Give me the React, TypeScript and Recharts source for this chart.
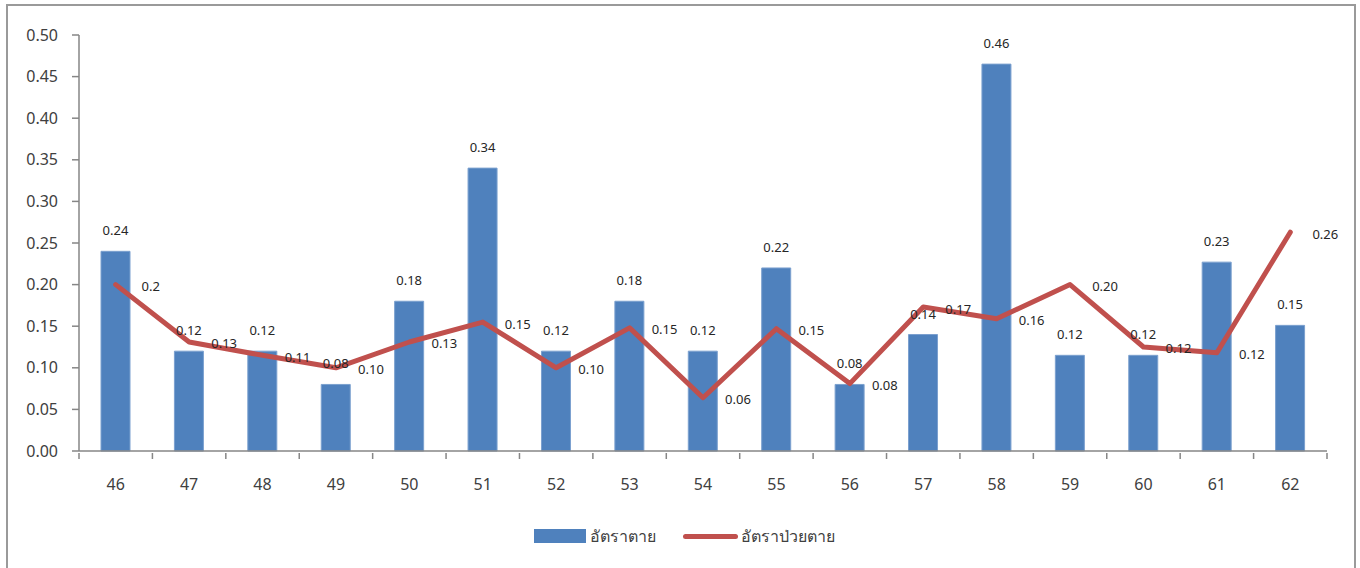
import { ComposedChart, Bar, Line, XAxis, YAxis, LabelList } from 'recharts';

const years = ['46', '47', '48', '49', '50', '51', '52', '53', '54', '55', '56', '57', '58', '59', '60', '61', '62'];
const deathRate = [0.24, 0.12, 0.12, 0.08, 0.18, 0.34, 0.12, 0.18, 0.12, 0.22, 0.08, 0.14, 0.465, 0.115, 0.115, 0.227, 0.151];
const deathLabels = ['0.24', '0.12', '0.12', '0.08', '0.18', '0.34', '0.12', '0.18', '0.12', '0.22', '0.08', '0.14', '0.46', '0.12', '0.12', '0.23', '0.15'];
const caseFatality = [0.2, 0.131, 0.115, 0.1, 0.131, 0.155, 0.1, 0.148, 0.064, 0.147, 0.081, 0.173, 0.159, 0.2, 0.125, 0.118, 0.263];
const fatalityLabels = ['0.2', '0.13', '0.11', '0.10', '0.13', '0.15', '0.10', '0.15', '0.06', '0.15', '0.08', '0.17', '0.16', '0.20', '0.12', '0.12', '0.26'];
const yTicks = [0, 0.05, 0.1, 0.15, 0.2, 0.25, 0.3, 0.35, 0.4, 0.45, 0.5];

const data = years.map((year, i) => ({
  year,
  death: deathRate[i],
  deathLabel: deathLabels[i],
  fatality: caseFatality[i],
  fatalityLabel: fatalityLabels[i],
}));

const FONT = "'Noto Sans', 'DejaVu Sans', sans-serif";
const AXIS = '#868686';
const STEP = 1248 / years.length;

const XTick = (props: any) => {
  const { x, y, payload, index } = props;
  const left = x - STEP / 2;
  return (
    <g>
      <line x1={left} y1={y} x2={left} y2={y + 6} stroke={AXIS} strokeWidth={1.5} />
      {index === years.length - 1 && (
        <line x1={x + STEP / 2} y1={y} x2={x + STEP / 2} y2={y + 6} stroke={AXIS} strokeWidth={1.5} />
      )}
      <text x={x} y={y + 33} textAnchor="middle" dominantBaseline="middle" fontSize={16} fill="#404040" fontFamily={FONT}>
        {payload.value}
      </text>
    </g>
  );
};

const FatalityLabel = (props: any) => {
  const { x, y, value } = props;
  return (
    <text x={x + 35} y={y + 3} textAnchor="middle" dominantBaseline="middle" fontSize={13} fill="#262626" fontFamily={FONT}>
      {value}
    </text>
  );
};

export default function App() {
  return (
    <div style={{ position: 'absolute', left: 0, top: 0, width: 1360, height: 568, overflow: 'hidden', background: '#fff', fontFamily: FONT }}>
      <div style={{ position: 'absolute', left: 6, top: 4, width: 1346, height: 600, border: '2px solid #9a9a9a' }} />
      <div style={{ position: 'absolute', left: 0, top: 0 }}>
        <ComposedChart width={1360} height={568} data={data} margin={{ top: 35, right: 33, bottom: 87, left: 0 }}>
          <XAxis
            dataKey="year"
            height={30}
            tickSize={0}
            tickLine={false}
            tick={<XTick />}
            axisLine={{ stroke: AXIS, strokeWidth: 1.5 }}
            interval={0}
          />
          <YAxis
            width={79}
            domain={[0, 0.5]}
            ticks={yTicks}
            tickFormatter={(v: number) => v.toFixed(2)}
            tickSize={7}
            tickMargin={14}
            tickLine={{ stroke: AXIS, strokeWidth: 1.5 }}
            axisLine={{ stroke: AXIS, strokeWidth: 1.5 }}
            tick={{ fontSize: 16, fill: '#404040', fontFamily: FONT }}
          />
          <Bar dataKey="death" fill="#4F81BD" stroke="#7BA0CF" strokeWidth={1} barSize={29} isAnimationActive={false}>
            <LabelList dataKey="deathLabel" position="top" offset={16} fontSize={13} fill="#262626" fontFamily={FONT} />
          </Bar>
          <Line
            type="linear"
            dataKey="fatality"
            stroke="#C0504D"
            strokeWidth={5}
            dot={false}
            strokeLinejoin="round"
            strokeLinecap="round"
            isAnimationActive={false}
          >
            <LabelList dataKey="fatalityLabel" content={<FatalityLabel />} />
          </Line>
        </ComposedChart>
      </div>
      <div style={{ position: 'absolute', left: 534, top: 529, width: 52, height: 14, background: '#4F81BD' }} />
      <div style={{ position: 'absolute', left: 590, top: 523, fontSize: 16, color: '#404040', lineHeight: '26px' }}>อัตราตาย</div>
      <div style={{ position: 'absolute', left: 683, top: 534, width: 55, height: 5, borderRadius: 3, background: '#C0504D' }} />
      <div style={{ position: 'absolute', left: 741, top: 523, fontSize: 16, color: '#404040', lineHeight: '26px' }}>อัตราป่วยตาย</div>
    </div>
  );
}
